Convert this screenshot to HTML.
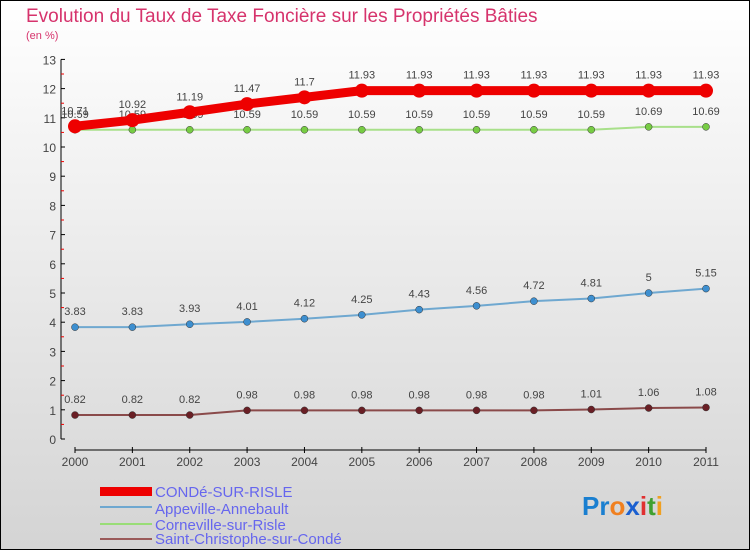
<!DOCTYPE html>
<html><head><meta charset="utf-8"><style>
body{margin:0;width:750px;height:550px;overflow:hidden}
svg{display:block;font-family:"Liberation Sans",sans-serif}
</style></head><body>
<svg id="chart" width="750" height="550">
<defs><linearGradient id="bg" x1="0" y1="0" x2="0" y2="1"><stop offset="0" stop-color="#ffffff"/><stop offset="1" stop-color="#d4d4d4"/></linearGradient></defs>
<rect x="0.5" y="0.5" width="749" height="549" fill="url(#bg)" stroke="#000"/>
<text x="26" y="22" font-size="19" fill="#d6336c">Evolution du Taux de Taxe Foncière sur les Propriétés Bâties</text>
<text x="26" y="39" font-size="11" fill="#d6336c">(en %)</text>
<g id="axes"></g><g id="series"></g>
<g>
<rect x="100" y="487" width="52" height="9" fill="#e00"/>
<text x="155" y="497" font-size="15" fill="#6666ee">CONDé-SUR-RISLE</text>
<rect x="100" y="506" width="52" height="2" fill="#6fa8d0"/>
<text x="155" y="514" font-size="15" fill="#6666ee">Appeville-Annebault</text>
<rect x="100" y="523" width="52" height="2" fill="#99dd77"/>
<text x="155" y="530" font-size="15" fill="#6666ee">Corneville-sur-Risle</text>
<rect x="100" y="538" width="52" height="2" fill="#9a5a5a"/>
<text x="155" y="544" font-size="15" fill="#6666ee">Saint-Christophe-sur-Condé</text>
</g>
<text x="582" y="515" font-size="26" font-weight="bold"><tspan fill="#1a7fd0">Pr</tspan><tspan fill="#f08020">o</tspan><tspan fill="#1a5fd0">x</tspan><tspan fill="#e03030">i</tspan><tspan fill="#40a030">t</tspan><tspan fill="#f0a020">i</tspan></text>
</svg>
<script>
const years=["2000","2001","2002","2003","2004","2005","2006","2007","2008","2009","2010","2011"];
const yTicks=[0,1,2,3,4,5,6,7,8,9,10,11,12,13];
const conde=[10.71,10.92,11.19,11.47,11.7,11.93,11.93,11.93,11.93,11.93,11.93,11.93];
const appeville=[3.83,3.83,3.93,4.01,4.12,4.25,4.43,4.56,4.72,4.81,5,5.15];
const corneville=[10.59,10.59,10.59,10.59,10.59,10.59,10.59,10.59,10.59,10.59,10.69,10.69];
const saintChristophe=[0.82,0.82,0.82,0.98,0.98,0.98,0.98,0.98,0.98,1.01,1.06,1.08];
const NS="http://www.w3.org/2000/svg";
const X=i=>75+i*(706-75)/(years.length-1);
const Y=v=>439-v*29.2;
function mk(tag,attrs,parent,txt){const e=document.createElementNS(NS,tag);for(const k in attrs)e.setAttribute(k,attrs[k]);if(txt!==undefined)e.textContent=txt;parent.appendChild(e);return e;}
const ax=document.getElementById('axes');
let e=mk('line',{x1:61,y1:Y(13),x2:61,y2:Y(0),stroke:'#000'},ax);


yTicks.forEach(t=>{
  mk('line',{x1:61,x2:65,y1:Y(t),y2:Y(t),stroke:'#000'},ax);
  if(t<13)mk('line',{x1:61,x2:64,y1:Y(t+0.5),y2:Y(t+0.5),stroke:'#e00'},ax);
  e=mk('text',{x:56,y:Y(t)+5,'font-size':12,fill:'#444','text-anchor':'end'},ax,t);
  
  
});
e=mk('line',{x1:X(0),y1:450,x2:X(11),y2:450,stroke:'#000'},ax);


years.forEach((y,i)=>{
  mk('line',{x1:X(i),x2:X(i),y1:447,y2:453,stroke:'#000'},ax);
  e=mk('text',{x:X(i),y:466,'font-size':12,fill:'#444','text-anchor':'middle'},ax,y);
  
  
});
const sg=document.getElementById('series');
function draw(name,vals,color,w,r,dot,labelOff){
  const g=mk('g',{},sg);
  
  
  mk('polyline',{points:vals.map((v,i)=>X(i)+','+Y(v)).join(' '),fill:'none',stroke:color,'stroke-width':w,'stroke-linejoin':'round'},g);
  vals.forEach((v,i)=>{
    const c=mk('circle',{cx:X(i),cy:Y(v),r:r,fill:dot,stroke:r<6?'#333':'none','stroke-width':0.5},g);
    
    
    const t=mk('text',{x:X(i),y:Y(v)+labelOff,'font-size':11,fill:'#444','text-anchor':'middle'},g,String(v));
    
    
  });
}
draw('saint-christophe',saintChristophe,'#8a4a4a',2,3.5,'#6a1f25',-12);
draw('appeville',appeville,'#6fa8d0',2,3.5,'#3d8fd0',-12);
draw('corneville',corneville,'#a8e08a',2,3.5,'#77cc44',-12);
draw('conde',conde,'#ee0000',9,7,'#ee0000',-12);
</script>
</body></html>
